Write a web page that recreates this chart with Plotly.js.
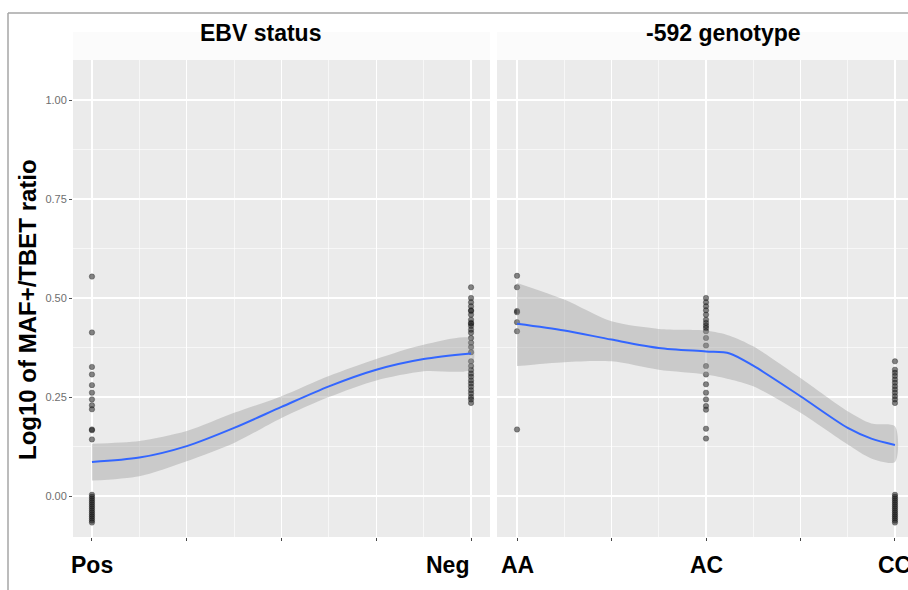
<!DOCTYPE html>
<html>
<head>
<meta charset="utf-8">
<script src="https://cdn.plot.ly/plotly-3.0.1.min.js"></script>
<style>html,body{margin:0;padding:0;background:#fff;}#chart{width:908px;height:590px;}</style>
</head>
<body>
<div id="chart"></div>
<script>
// ---------- data ----------
const stripTitles = ["EBV status", "-592 genotype"];
const yAxisTitle = "Log10 of MAF+/TBET ratio";
const ebvLevels = ["Pos", "Neg"];
const genoLevels = ["AA", "AC", "CC"];
const yTickVals = [0, 0.25, 0.5, 0.75, 1];
const yTickText = ["0.00", "0.25", "0.50", "0.75", "1.00"];

// observed points (Log10 ratio)
const ebvPos = [0.554, 0.413, 0.326, 0.307, 0.280, 0.261, 0.244, 0.229, 0.219, 0.168, 0.166, 0.143,
  0.003, -0.002, -0.007, -0.012, -0.017, -0.022, -0.027, -0.032, -0.037, -0.042, -0.047, -0.052, -0.057, -0.062, -0.067];
const ebvNeg = [0.527, 0.500, 0.489, 0.479, 0.469, 0.467, 0.458, 0.445, 0.437, 0.435, 0.429, 0.420, 0.412, 0.399,
  0.387, 0.376, 0.363, 0.340, 0.328, 0.318, 0.309, 0.301, 0.292, 0.284, 0.276, 0.267, 0.259, 0.250, 0.244, 0.235];
const genoAA = [0.556, 0.527, 0.467, 0.464, 0.439, 0.416, 0.168];
const genoAC = [0.500, 0.489, 0.479, 0.469, 0.458, 0.445, 0.437, 0.430, 0.424, 0.416, 0.399, 0.380,
  0.328, 0.307, 0.282, 0.261, 0.244, 0.227, 0.218, 0.170, 0.145];
const genoCC = [0.340, 0.319, 0.311, 0.303, 0.294, 0.286, 0.277, 0.269, 0.261, 0.252, 0.244, 0.235,
  0.003, -0.002, -0.007, -0.012, -0.017, -0.022, -0.027, -0.032, -0.037, -0.042, -0.047, -0.052, -0.057, -0.062, -0.067];

// loess smooth with confidence band
const ebvSmoothX = [0, 0.125, 0.25, 0.375, 0.5, 0.625, 0.75, 0.875, 1];
const ebvFit     = [0.086, 0.097, 0.126, 0.172, 0.225, 0.277, 0.319, 0.346, 0.360];
const ebvUpper   = [0.132, 0.139, 0.164, 0.210, 0.252, 0.303, 0.346, 0.382, 0.397];
const ebvLower   = [0.039, 0.050, 0.088, 0.134, 0.197, 0.250, 0.292, 0.315, 0.321];

const genoSmoothX = [0, 0.25, 0.5, 0.75, 1, 1.125, 1.25, 1.5, 1.75, 1.875, 2];
const genoFit     = [0.435, 0.418, 0.395, 0.374, 0.365, 0.360, 0.329, 0.252, 0.172, 0.145, 0.129];
const genoUpper   = [0.538, 0.496, 0.441, 0.422, 0.418, 0.405, 0.378, 0.298, 0.214, 0.183, 0.176];
const genoLower   = [0.328, 0.338, 0.340, 0.319, 0.307, 0.295, 0.277, 0.210, 0.130, 0.095, 0.086];

// ---------- build ----------
const W = 908, H = 590;
const px = v => v / W;
const py = v => (H - v) / H;

const ptMarker = {size: 5.5, color: 'rgba(30,30,30,0.55)', line: {color: 'rgba(0,0,0,0.4)', width: 0.6}};
const fam = 'Liberation Sans, Arial, sans-serif';

function pointsTrace(groups, xa) {
  const xs = [], ys = [];
  groups.forEach((g, i) => g.forEach(v => { xs.push(i); ys.push(v); }));
  return {x: xs, y: ys, xaxis: xa, yaxis: 'y', type: 'scatter', mode: 'markers',
          marker: ptMarker, hoverinfo: 'skip', showlegend: false};
}
function ribbonTrace(sx, lo, hi, xa) {
  return {x: sx.concat(sx.slice().reverse()), y: hi.concat(lo.slice().reverse()),
          xaxis: xa, yaxis: 'y', type: 'scatter', mode: 'lines', fill: 'toself',
          fillcolor: 'rgba(153,153,153,0.4)', line: {width: 0, shape: 'spline', smoothing: 0.8},
          hoverinfo: 'skip', showlegend: false};
}
function fitTrace(sx, fit, xa) {
  return {x: sx, y: fit, xaxis: xa, yaxis: 'y', type: 'scatter', mode: 'lines',
          line: {color: '#3366FF', width: 2, shape: 'spline', smoothing: 0.8},
          hoverinfo: 'skip', showlegend: false};
}

const data = [
  pointsTrace([ebvPos, ebvNeg], 'x'),
  ribbonTrace(ebvSmoothX, ebvLower, ebvUpper, 'x'),
  fitTrace(ebvSmoothX, ebvFit, 'x'),
  pointsTrace([genoAA, genoAC, genoCC], 'x2'),
  ribbonTrace(genoSmoothX, genoLower, genoUpper, 'x2'),
  fitTrace(genoSmoothX, genoFit, 'x2')
];

const xCommon = {
  showticklabels: false, ticks: 'outside', ticklen: 3, tickwidth: 1, tickcolor: '#444',
  showgrid: true, gridcolor: '#ffffff', gridwidth: 1.3, zeroline: false, showline: false,
  fixedrange: true, anchor: 'y'
};

const annotations = [];
const labelFont = {family: fam, size: 23, color: '#000', weight: 'bold'};
ebvLevels.forEach((t, i) => annotations.push({
  text: t, xref: 'x', yref: 'paper', x: i, y: py(565), showarrow: false,
  xanchor: i === ebvLevels.length - 1 ? 'right' : 'center', yanchor: 'middle', font: labelFont
}));
genoLevels.forEach((t, i) => annotations.push({
  text: t, xref: 'x2', yref: 'paper', x: i, y: py(565), showarrow: false,
  xanchor: 'center', yanchor: 'middle', font: labelFont
}));
const stripX = [260, 723];
stripTitles.forEach((t, i) => annotations.push({
  text: t, xref: 'paper', yref: 'paper', x: px(stripX[i]), y: py(33), showarrow: false,
  xanchor: 'center', yanchor: 'middle', font: {family: fam, size: 23, color: '#000', weight: 'bold'}
}));
annotations.push({
  text: yAxisTitle, xref: 'paper', yref: 'paper', x: px(28), y: py(310), textangle: -90,
  showarrow: false, xanchor: 'center', yanchor: 'middle',
  font: {family: fam, size: 24, color: '#000', weight: 'bold'}
});

const layout = {
  width: W, height: H,
  margin: {l: 0, r: 0, t: 0, b: 0},
  paper_bgcolor: '#ffffff', plot_bgcolor: '#ebebeb',
  showlegend: false,
  xaxis: Object.assign({}, xCommon, {
    domain: [px(73), px(490)], range: [-0.05, 1.05],
    tickvals: [0, 0.25, 0.5, 0.75, 1],
    minor: {tickvals: [0.125, 0.375, 0.625, 0.875], showgrid: true, gridcolor: '#ffffff', gridwidth: 0.6, ticks: ''}
  }),
  xaxis2: Object.assign({}, xCommon, {
    domain: [px(497), 1], range: [-0.106, 2.069],
    tickvals: [0, 0.5, 1, 1.5, 2],
    minor: {tickvals: [0.25, 0.75, 1.25, 1.75], showgrid: true, gridcolor: '#ffffff', gridwidth: 0.6, ticks: ''}
  }),
  yaxis: {
    domain: [py(537), py(60)], range: [-0.1035, 1.101],
    tickvals: yTickVals, ticktext: yTickText,
    tickfont: {family: fam, size: 11, color: '#6e6e6e'},
    ticks: 'outside', ticklen: 3, tickwidth: 1, tickcolor: '#555',
    showgrid: true, gridcolor: '#ffffff', gridwidth: 1.3, zeroline: false, showline: false,
    minor: {tickvals: [0.125, 0.375, 0.625, 0.875], showgrid: true, gridcolor: '#ffffff', gridwidth: 0.6, ticks: ''},
    fixedrange: true, anchor: 'x'
  },
  annotations: annotations,
  shapes: [
    {type: 'rect', xref: 'paper', yref: 'paper', x0: px(73), x1: px(490), y0: py(60), y1: py(32),
     fillcolor: '#fbfbfb', line: {width: 0}, layer: 'below'},
    {type: 'rect', xref: 'paper', yref: 'paper', x0: px(497), x1: 1, y0: py(60), y1: py(32),
     fillcolor: '#fbfbfb', line: {width: 0}, layer: 'below'},
    {type: 'line', xref: 'paper', yref: 'paper', x0: px(8), x1: 1, y0: py(13), y1: py(13),
     line: {color: '#a6a6a6', width: 1.5}},
    {type: 'line', xref: 'paper', yref: 'paper', x0: px(8), x1: px(8), y0: 0, y1: py(13),
     line: {color: '#a6a6a6', width: 1.5}}
  ]
};

Plotly.newPlot('chart', data, layout, {displayModeBar: false, staticPlot: true});
</script>
</body>
</html>
